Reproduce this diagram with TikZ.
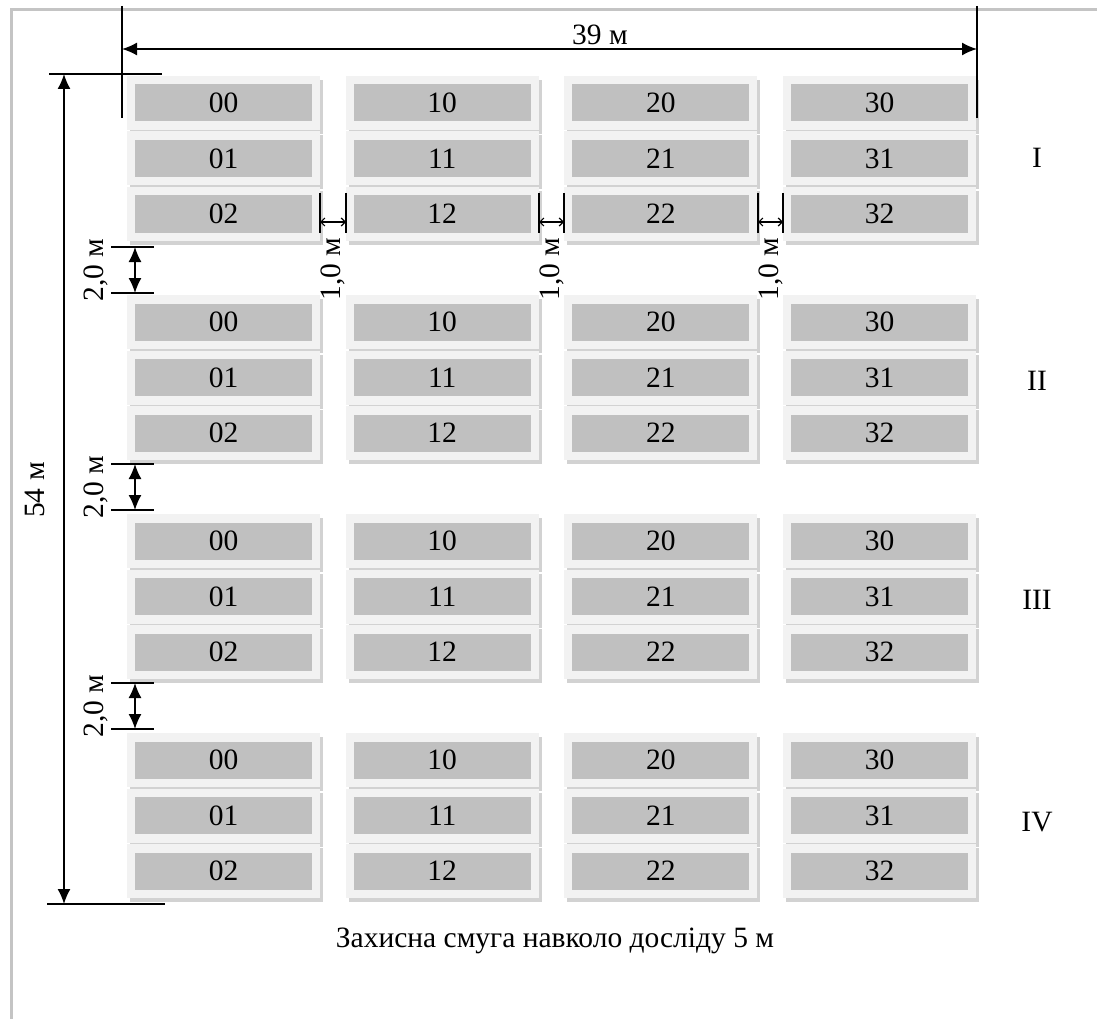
\documentclass[tikz,border=0pt]{standalone}
\usepackage{fontspec}
\setmainfont{Liberation Serif}
\usetikzlibrary{arrows.meta,positioning}

\definecolor{cellgray}{HTML}{C0C0C0}
\definecolor{celllight}{HTML}{F2F2F2}
\definecolor{cellshade}{HTML}{D2D2D2}
\definecolor{framegray}{HTML}{C4C4C4}

\tikzset{
  every node/.style={font=\fontsize{29.5}{32}\selectfont},
  plotcell/.style={fill=cellgray, minimum width=177pt, minimum height=37pt, inner sep=0pt},
  dimline/.style={line width=1.6pt, {Latex[length=15pt,width=13pt]}-{Latex[length=15pt,width=13pt]}},
  gapline/.style={line width=1.2pt, {Straight Barb[length=4pt,width=8pt]}-{Straight Barb[length=4pt,width=8pt]}},
  extline/.style={line width=1.6pt},
}

\begin{document}
\begin{tikzpicture}[x=1pt,y=-1pt]
\useasboundingbox (0,0) rectangle (1097,1019);

% Frame
\draw[framegray, line width=3pt] (11,1019) -- (11,10) -- (1097,10);

% Plots
\foreach \b in {0,...,3} {
  \foreach \c in {0,...,3} {
    \foreach \r in {0,1,2} {
      \pgfmathsetmacro{\px}{127+218.7*\c}
      \pgfmathsetmacro{\py}{76+219*\b+55.5*\r}
      \fill[cellshade] (\px+3,\py+4) rectangle ++(193,54);
      \fill[celllight] (\px,\py) rectangle ++(193,54);
      \node[plotcell] (p\b\c\r) at (\px+96.5,\py+27) {\c\r};
    }
  }
}

% Replications
\foreach \y/\t/\n in {158/I/1, 381/II/2, 600/III/3, 822/IV/4} {
  \node (rep\n) at (1037,\y) {\t};
}

% Width of the trial
\draw[extline] (122,6) -- (122,118);
\draw[extline] (977,6) -- (977,118);
\coordinate (wl) at (122,49);
\coordinate (wr) at (977,49);
\draw[dimline] (wl) -- (wr);
\node (width) at (600,35) {39 м};

% Length of the trial
\draw[extline] (49,74) -- (162,74);
\draw[extline] (47,904) -- (165,904);
\coordinate (lt) at (64,74);
\coordinate (lb) at (64,904);
\draw[dimline] (lt) -- (lb);
\node[rotate=90] (length) at (35,490) {54 м};

% Paths between blocks
\foreach \ya/\yb/\n in {247/293/1, 464/510/2, 683/729/3} {
  \draw[extline] (111,\ya) -- (154,\ya);
  \draw[extline] (111,\yb) -- (154,\yb);
  \coordinate (pt\n) at (135,\ya);
  \coordinate (pb\n) at (135,\yb);
  \draw[dimline] (pt\n) -- (pb\n);
  \node[rotate=90] (path\n) at (96,{(\ya+\yb)/2}) {2,0 м};
}

% Paths between plots
\foreach \xa/\xb/\n in {320/346/1, 539/564/2, 758/783/3} {
  \draw[extline] (\xa,193) -- (\xa,233);
  \draw[extline] (\xb,193) -- (\xb,233);
  \coordinate (gl\n) at (\xa,222);
  \coordinate (gr\n) at (\xb,222);
  \draw[gapline] (gl\n) -- (gr\n);
  \node[rotate=90] (gap\n) at ({(\xa+\xb)/2},269) {1,0 м};
}

% Protective strip
\node (strip) at (555,941) {Захисна смуга навколо досліду 5 м};
\end{tikzpicture}
\end{document}
